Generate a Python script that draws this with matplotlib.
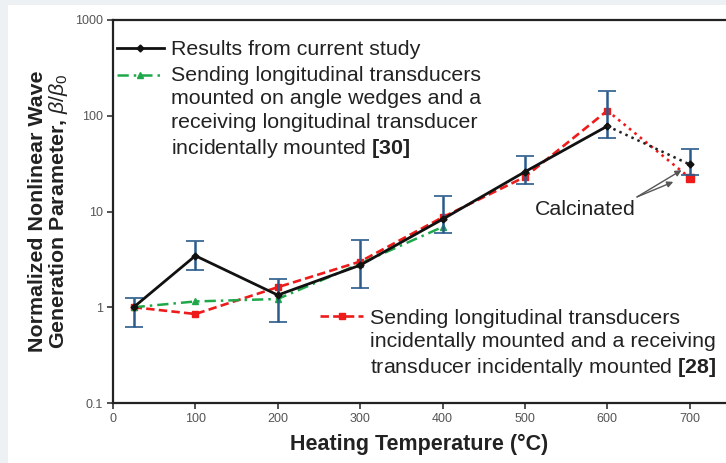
import numpy as np
import matplotlib
matplotlib.use("Agg")
import matplotlib.pyplot as plt
from matplotlib.patches import Rectangle
from matplotlib.legend_handler import HandlerLine2D

plt.rcParams["font.family"] = ["Liberation Sans", "DejaVu Sans"]
plt.rcParams["mathtext.fontset"] = "custom"
plt.rcParams["mathtext.rm"] = "Liberation Sans"
plt.rcParams["mathtext.it"] = "Liberation Sans:italic"
plt.rcParams["mathtext.bf"] = "Liberation Sans:bold"

# ── data ──────────────────────────────────────────────
temp = [25, 100, 200, 300, 400, 500, 600, 700]

# current study (700 °C point = calcinated, joined with dotted line)
beta_study = [1.0, 3.45, 1.34, 2.75, 8.3, 26, 78, 31]
err_low = [0.62, 2.45, 0.70, 1.58, 5.95, 19.5, 59, 24]
err_high = [1.24, 4.9, 1.96, 5.0, 14.5, 38, 182, 45]

# ref [30]
temp_30 = [25, 100, 200, 300, 400]
beta_30 = [1.0, 1.15, 1.22, 2.85, 6.9]

# ref [28]
beta_28 = [1.0, 0.85, 1.62, 3.0, 8.7, 23, 113, 22.5]

yticks = [0.1, 1, 10, 100, 1000]
ytick_labels = ["0.1", "1", "10", "100", "1000"]
xticks = [0, 100, 200, 300, 400, 500, 600, 700]

lbl_study = "Results from current study"
lbl_30 = ("Sending longitudinal transducers\nmounted on angle wedges and a\n"
          "receiving longitudinal transducer\nincidentally mounted $\\mathbf{[30]}$")
lbl_28 = ("Sending longitudinal transducers\nincidentally mounted and a receiving\n"
          "transducer incidentally mounted $\\mathbf{[28]}$")

BLACK = "#111111"
RED = "#ee1b1b"
GREEN = "#1ea84a"
BLUE = "#2a5b8c"
TXT = "#222222"
FS = 15.4
LSP = 1.3  # legend line spacing


class FirstLineHandler(HandlerLine2D):
    """put the legend handle next to the first line of a multi-line label"""
    def __init__(self, shift=0.0, **kw):
        super().__init__(**kw)
        self.shift = shift

    def create_artists(self, legend, orig_handle, xdescent, ydescent,
                       width, height, fontsize, trans):
        arts = super().create_artists(legend, orig_handle, xdescent, ydescent,
                                      width, height, fontsize, trans)
        for a in arts:
            a.set_ydata(np.asarray(a.get_ydata()) + self.shift * fontsize)
        return arts


fig = plt.figure(figsize=(7.26, 4.63), dpi=100)
fig.patch.set_facecolor("#eef1f4")
fig.add_artist(Rectangle((8 / 726, 0), 1, 458 / 463, transform=fig.transFigure,
                         facecolor="white", edgecolor="none", zorder=-10))

ax = fig.add_axes([113 / 726, 60 / 463, 613 / 726, 383 / 463])
ax.set_facecolor("none")

t = np.array(temp)
bs = np.array(beta_study)
b28 = np.array(beta_28)

# error bars
eb = ax.errorbar(t, bs, yerr=[bs - np.array(err_low), np.array(err_high) - bs],
                 fmt="none", ecolor=BLUE, elinewidth=1.8, capsize=6.5,
                 capthick=1.2, zorder=4)
for cap in eb[1]:
    cap.set_color("#333333")

# ref [28]
l28, = ax.plot(t[:-1], b28[:-1], ls=(0, (3.2, 1.6)), lw=1.9, color=RED,
               marker="s", ms=5, zorder=3)
ax.plot(t[-2:], b28[-2:], ls=":", lw=1.9, color=RED, zorder=3)
ax.plot(t[-1:], b28[-1:], ls="none", marker="s", ms=6, color=RED, zorder=3)

# ref [30]
l30, = ax.plot(temp_30, beta_30, ls=(0, (4.5, 2, 1, 2)), lw=1.8, color=GREEN,
               marker="^", ms=5, zorder=3)

# current study
ls_, = ax.plot(t[:-1], bs[:-1], ls="-", lw=2.0, color=BLACK, marker="D",
               ms=3.5, zorder=5)
ax.plot(t[-2:], bs[-2:], ls=":", lw=1.8, color="#222222", zorder=5)
ax.plot(t[-1:], bs[-1:], ls="none", marker="D", ms=3.5, color=BLACK, zorder=5)

ax.set_yscale("log")
ax.set_ylim(0.1, 1000)
ax.set_xlim(0, 744)
ax.set_yticks(yticks, ytick_labels)
ax.set_xticks(xticks)
ax.yaxis.set_minor_locator(matplotlib.ticker.NullLocator())
ax.tick_params(axis="both", labelsize=9, labelcolor="#555555", color="#333333",
               length=4, width=1.2, direction="out")

for side in ["left", "bottom", "top"]:
    ax.spines[side].set_linewidth(1.6)
    ax.spines[side].set_color("#222222")
ax.spines["right"].set_visible(False)

ax.set_xlabel("Heating Temperature (°C)", fontsize=15.5, fontweight="bold",
              color=TXT, labelpad=6)
ax.set_ylabel("Normalized Nonlinear Wave\nGeneration Parameter, $\\beta/\\beta_0$",
              fontsize=15.4, fontweight="bold", color=TXT, linespacing=1.0)
ax.yaxis.set_label_coords(-0.07, 0.5)

# legends
step = LSP * 0.86  # approx. line pitch in font-size units
leg1 = ax.legend([ls_, l30], [lbl_study, lbl_30], loc="upper left",
                 bbox_to_anchor=(0.006, 0.947), frameon=False, fontsize=FS,
                 handlelength=2.2, handletextpad=0.35, borderpad=0,
                 borderaxespad=0, labelspacing=0.3,
                 handler_map={l30: FirstLineHandler(shift=1.5 * step + 0.1)})
for tx in leg1.get_texts():
    tx.set_color(TXT)
    tx.set_linespacing(LSP)
ax.add_artist(leg1)

leg2 = ax.legend([l28], [lbl_28], loc="upper left",
                 bbox_to_anchor=(0.338, 0.246), frameon=False, fontsize=FS,
                 handlelength=2.0, handletextpad=0.35, borderpad=0,
                 borderaxespad=0,
                 handler_map={l28: FirstLineHandler(shift=1.0 * step + 0.2)})
for tx in leg2.get_texts():
    tx.set_color(TXT)
    tx.set_linespacing(LSP)

# calcinated note
ax.text(573, 10.6, "Calcinated", fontsize=FS, color=TXT, ha="center", va="center")
for tip in [(690, 27), (680, 20.4)]:
    ax.annotate("", xy=tip, xytext=(636, 14.2),
                arrowprops=dict(arrowstyle="-|>", color="#555555", lw=1,
                                shrinkA=0, shrinkB=0, mutation_scale=9))

fig.savefig("out.png", dpi=100, facecolor=fig.get_facecolor())
